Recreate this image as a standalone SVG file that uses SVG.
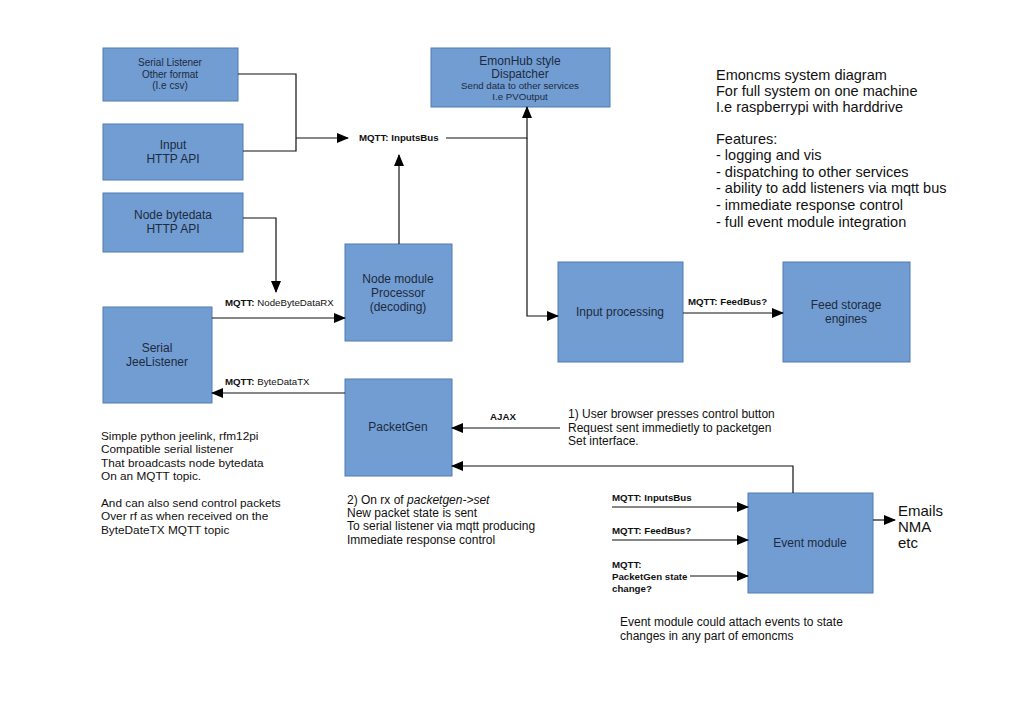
<svg xmlns="http://www.w3.org/2000/svg" width="1024" height="724" viewBox="0 0 1024 724">
<style>
.box{fill:#719dd2;stroke:#4f7cb3;stroke-width:1}
.t{font-family:"Liberation Sans",Arial,sans-serif;fill:#1e2a40;text-anchor:middle}
.n{font-family:"Liberation Sans",Arial,sans-serif;fill:#111}
.b{font-family:"Liberation Sans",Arial,sans-serif;font-weight:bold;fill:#111;font-size:9.7px}
.c{fill:none;stroke:#111;stroke-width:1.2}
</style>
<defs>
<marker id="ah" markerWidth="12" markerHeight="10" refX="11" refY="5" orient="auto" markerUnits="userSpaceOnUse">
<path d="M0,0 L12,5 L0,10 z" fill="#000"/>
</marker>
</defs>
<rect width="1024" height="724" fill="#fff"/>
<g id="serial-listener"><rect class="box" x="103" y="48" width="135" height="53"/>
<text class="t" font-size="10"><tspan x="170" y="66">Serial Listener</tspan><tspan x="170" y="78">Other format</tspan><tspan x="170" y="89">(I.e csv)</tspan></text></g>
<g id="input-http"><rect class="box" x="103" y="124" width="140" height="56"/>
<text class="t" font-size="12"><tspan x="173" y="149">Input</tspan><tspan x="173" y="163">HTTP API</tspan></text></g>
<g id="node-bytedata"><rect class="box" x="103" y="193" width="140" height="59"/>
<text class="t" font-size="12"><tspan x="173" y="219">Node bytedata</tspan><tspan x="173" y="233">HTTP API</tspan></text></g>
<g id="dispatcher"><rect class="box" x="431" y="48" width="179" height="59"/>
<text class="t" font-size="12"><tspan x="520" y="65">EmonHub style</tspan><tspan x="520" y="78">Dispatcher</tspan></text>
<text class="t" font-size="9.7"><tspan x="520" y="89">Send data to other services</tspan><tspan x="520" y="100">I.e PVOutput</tspan></text></g>
<g id="node-module"><rect class="box" x="345" y="244" width="107" height="97"/>
<text class="t" font-size="12"><tspan x="398" y="283">Node module</tspan><tspan x="398" y="297">Processor</tspan><tspan x="398" y="311">(decoding)</tspan></text></g>
<g id="jeelistener"><rect class="box" x="103" y="307" width="109" height="96"/>
<text class="t" font-size="12"><tspan x="157" y="352">Serial</tspan><tspan x="157" y="366">JeeListener</tspan></text></g>
<g id="packetgen"><rect class="box" x="345" y="379" width="107" height="97"/>
<text class="t" font-size="12"><tspan x="398" y="431">PacketGen</tspan></text></g>
<g id="input-processing"><rect class="box" x="558" y="262" width="125" height="100"/>
<text class="t" font-size="12"><tspan x="620" y="316">Input processing</tspan></text></g>
<g id="feed-storage"><rect class="box" x="783" y="262" width="127" height="100"/>
<text class="t" font-size="12"><tspan x="846" y="309">Feed storage</tspan><tspan x="846" y="323">engines</tspan></text></g>
<g id="event-module"><rect class="box" x="748" y="493" width="125" height="100"/>
<text class="t" font-size="12"><tspan x="810" y="547">Event module</tspan></text></g>

<g id="connectors">
<polyline class="c" points="238,74 296,74 296,151 243,151"/>
<line class="c" x1="296" y1="138" x2="348" y2="138" marker-end="url(#ah)"/>
<polyline class="c" points="446,138 527,138 527,107" marker-end="url(#ah)"/>
<polyline class="c" points="527,138 527,316 558,316" marker-end="url(#ah)"/>
<line class="c" x1="399" y1="244" x2="399" y2="155" marker-end="url(#ah)"/>
<polyline class="c" points="243,218 276,218 276,292" marker-end="url(#ah)"/>
<line class="c" x1="212" y1="318" x2="345" y2="318" marker-end="url(#ah)"/>
<line class="c" x1="345" y1="393" x2="212" y2="393" marker-end="url(#ah)"/>
<line class="c" x1="560" y1="428" x2="452" y2="428" marker-end="url(#ah)"/>
<polyline class="c" points="793,493 793,466 452,466" marker-end="url(#ah)"/>
<line class="c" x1="683" y1="313" x2="783" y2="313" marker-end="url(#ah)"/>
<line class="c" x1="612" y1="507" x2="748" y2="507" marker-end="url(#ah)"/>
<line class="c" x1="612" y1="540" x2="748" y2="540" marker-end="url(#ah)"/>
<line class="c" x1="690" y1="576" x2="748" y2="576" marker-end="url(#ah)"/>
<line class="c" x1="873" y1="520" x2="895" y2="520" marker-end="url(#ah)"/>
</g>

<text class="b" x="359" y="141">MQTT: InputsBus</text>
<text class="b" x="225" y="306">MQTT: <tspan font-weight="normal">NodeByteDataRX</tspan></text>
<text class="b" x="225" y="385">MQTT: <tspan font-weight="normal">ByteDataTX</tspan></text>
<text class="b" x="490" y="420">AJAX</text>
<text class="b" x="688" y="305">MQTT: FeedBus?</text>
<text class="b" x="612" y="501">MQTT: InputsBus</text>
<text class="b" x="612" y="534">MQTT: FeedBus?</text>
<text class="b"><tspan x="612" y="568">MQTT:</tspan><tspan x="612" y="580">PacketGen state</tspan><tspan x="612" y="592">change?</tspan></text>

<text class="n" font-size="14.5"><tspan x="716" y="80">Emoncms system diagram</tspan><tspan x="716" y="96">For full system on one machine</tspan><tspan x="716" y="112">I.e raspberrypi with harddrive</tspan><tspan x="716" y="144">Features:</tspan><tspan x="716" y="160">- logging and vis</tspan><tspan x="716" y="177">- dispatching to other services</tspan><tspan x="716" y="193">- ability to add listeners via mqtt bus</tspan><tspan x="716" y="210">- immediate response control</tspan><tspan x="716" y="227">- full event module integration</tspan></text>

<text class="n" font-size="11.8"><tspan x="101" y="440">Simple python jeelink, rfm12pi</tspan><tspan x="101" y="453">Compatible serial listener</tspan><tspan x="101" y="467">That broadcasts node bytedata</tspan><tspan x="101" y="480">On an MQTT topic.</tspan><tspan x="101" y="507">And can also send control packets</tspan><tspan x="101" y="520">Over rf as when received on the</tspan><tspan x="101" y="534">ByteDateTX MQTT topic</tspan></text>

<text class="n" font-size="12"><tspan x="568" y="418">1) User browser presses control button</tspan><tspan x="568" y="432">Request sent immedietly to packetgen</tspan><tspan x="568" y="445">Set interface.</tspan></text>

<text class="n" font-size="12"><tspan x="347" y="504">2) On rx of <tspan font-style="italic">packetgen-&gt;set</tspan></tspan><tspan x="347" y="517">New packet state is sent</tspan><tspan x="347" y="530">To serial listener via mqtt producing</tspan><tspan x="347" y="544">Immediate response control</tspan></text>

<text class="n" font-size="12"><tspan x="620" y="626">Event module could attach events to state</tspan><tspan x="620" y="640">changes in any part of emoncms</tspan></text>

<text class="n" font-size="15"><tspan x="898" y="516">Emails</tspan><tspan x="898" y="532">NMA</tspan><tspan x="898" y="548">etc</tspan></text>
</svg>
